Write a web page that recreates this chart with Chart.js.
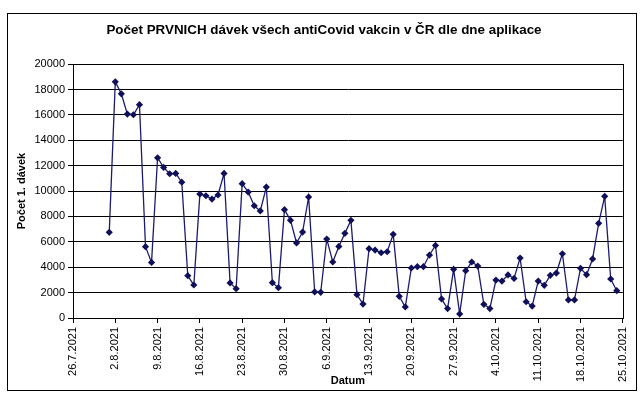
<!DOCTYPE html>
<html>
<head>
<meta charset="utf-8">
<script src="https://cdn.jsdelivr.net/npm/chart.js@4"></script>
<style>
  html, body { margin: 0; padding: 0; background: #fff; }
  #wrap { width: 640px; height: 396px; }
</style>
</head>
<body>
<div id="wrap"><canvas id="graf" width="640" height="396"></canvas></div>
<script>
// tick labels on the date axis (one per week, starting 26.7.2021 = day 0)
const tickLabels = ["26.7.2021", "2.8.2021", "9.8.2021", "16.8.2021", "23.8.2021", "30.8.2021",
  "6.9.2021", "13.9.2021", "20.9.2021", "27.9.2021", "4.10.2021", "11.10.2021", "18.10.2021", "25.10.2021"];
const firstDay = 6; // 1.8.2021
const lastDay = 91; // 25.10.2021

// first doses per day, 1.8.2021 .. 24.10.2021
const aug = [6750, 18600, 17660, 16060, 16010, 16800, 5620, 4380, 12620, 11860, 11360, 11390, 10700, 3330, 2600,
  9760, 9630, 9370, 9690, 11390, 2760, 2310, 10580, 9920, 8840, 8430, 10310, 2780, 2390, 8530, 7690];
const sep = [5910, 6770, 9530, 2050, 2020, 6220, 4410, 5640, 6670, 7690, 1840, 1100, 5460, 5350, 5140,
  5220, 6590, 1710, 870, 3940, 4040, 4040, 4960, 5720, 1500, 740, 3830, 320, 3730, 4410];
const oct = [4090, 1080, 740, 2990, 2910, 3390, 3120, 4720, 1280, 940, 2910, 2570, 3360, 3540, 5060,
  1420, 1420, 3910, 3410, 4650, 7460, 9580, 3070, 2150];
const doses = aug.concat(sep, oct);

const points = doses.map((v, i) => ({ x: firstDay + i, y: v }));

const frame = {
  id: "frame",
  afterDraw(chart) {
    const c = chart.ctx;
    const a = chart.chartArea;
    c.save();
    c.strokeStyle = "#000";
    c.lineWidth = 1;
    c.strokeRect(Math.round(a.left) + 0.5, Math.round(a.top) + 0.5, Math.round(a.right - a.left), Math.round(a.bottom - a.top));
    c.strokeRect(7.5, 13.5, 629, 377);
    c.restore();
  }
};

Chart.defaults.font.family = '"Liberation Sans", Arial, sans-serif';
Chart.defaults.color = "#000";

new Chart(document.getElementById("graf"), {
  type: "line",
  data: {
    datasets: [{
      data: points,
      borderColor: "#1b1b72",
      borderWidth: 1.3,
      backgroundColor: "#10105a",
      pointStyle: "rectRot",
      pointRadius: 3.6,
      pointBorderWidth: 0,
      tension: 0
    }]
  },
  options: {
    responsive: false,
    animation: false,
    layout: { padding: { left: 25, right: 17, top: 22, bottom: 8 } },
    plugins: {
      legend: { display: false },
      tooltip: { enabled: false },
      title: {
        display: true,
        text: "Počet PRVNICH dávek všech antiCovid vakcin v ČR dle dne aplikace",
        font: { size: 13.4, weight: "bold" },
        color: "#000",
        padding: { top: 0, bottom: 26 }
      }
    },
    scales: {
      x: {
        type: "linear",
        min: 0,
        max: lastDay,
        afterBuildTicks(scale) {
          scale.ticks = tickLabels.map((t, i) => ({ value: i * 7 }));
        },
        ticks: {
          callback: (v) => tickLabels[v / 7],
          minRotation: 90,
          maxRotation: 90,
          autoSkip: false,
          font: { size: 11 },
          padding: 4
        },
        grid: { drawOnChartArea: false, color: "#000", tickLength: 5 },
        border: { color: "#000", width: 1 },
        title: {
          display: true,
          text: "Datum",
          font: { size: 11, weight: "bold" },
          padding: { top: 0, bottom: 0 }
        },
        afterFit(scale) { scale.height = 70; }
      },
      y: {
        min: 0,
        max: 20000,
        ticks: {
          stepSize: 2000,
          font: { size: 11 },
          padding: 3,
          callback: (v) => String(v)
        },
        grid: { color: "#000", tickLength: 5 },
        border: { color: "#000", width: 1 },
        title: {
          display: true,
          text: "Počet 1. dávek",
          font: { size: 11, weight: "bold" },
          padding: { top: -9.6, bottom: 0 }
        },
        afterFit(scale) { scale.width = 48; }
      }
    }
  },
  plugins: [frame]
});
</script>
</body>
</html>
